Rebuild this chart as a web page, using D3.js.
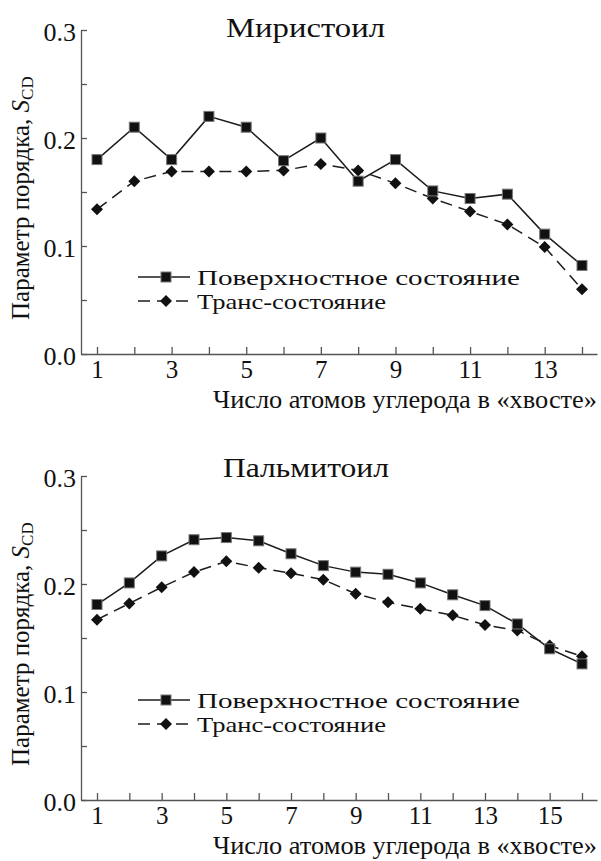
<!DOCTYPE html>
<html>
<head>
<meta charset="utf-8">
<script src="https://cdn.jsdelivr.net/npm/d3@7"></script>
<style>
  body { margin: 0; background: #fff; }
</style>
</head>
<body>
<div id="chart"></div>
<script>
// Миристоил
var myrAtoms = [1, 2, 3, 4, 5, 6, 7, 8, 9, 10, 11, 12, 13, 14];
var myrSurface = [0.180, 0.210, 0.180, 0.220, 0.210, 0.179, 0.200, 0.160, 0.180, 0.151, 0.144, 0.148, 0.111, 0.082];
var myrTrans = [0.134, 0.160, 0.169, 0.169, 0.169, 0.170, 0.176, 0.170, 0.158, 0.144, 0.132, 0.120, 0.099, 0.060];

// Пальмитоил
var palAtoms = [1, 2, 3, 4, 5, 6, 7, 8, 9, 10, 11, 12, 13, 14, 15, 16];
var palSurface = [0.181, 0.201, 0.226, 0.241, 0.243, 0.240, 0.228, 0.217, 0.211, 0.209, 0.201, 0.190, 0.180, 0.163, 0.140, 0.126];
var palTrans = [0.167, 0.182, 0.197, 0.211, 0.221, 0.215, 0.210, 0.204, 0.191, 0.183, 0.177, 0.171, 0.162, 0.157, 0.143, 0.133];

var yTickLabels = [0, 0.1, 0.2, 0.3];
var yMinorTicks = [0, 0.05, 0.1, 0.15, 0.2, 0.25, 0.3];
var seriesNames = ["Поверхностное состояние", "Транс-состояние"];
var xTitle = "Число атомов углерода в «хвосте»";

var FONT = "'Liberation Serif', 'Times New Roman', serif";
var svg = d3.select("#chart").append("svg").attr("width", 601).attr("height", 861);

var axisColor = "#555";
var lineColor = "#1c1c1c";
var textColor = "#111";

function txt(sel, size) {
    return sel.style("font-family", FONT).attr("font-size", size).attr("fill", textColor);
}

function panel(o) {
    var g = svg.append("g");
    var y = d3.scaleLinear().domain([0, 0.3]).range([o.y0, o.y0 - 324]);
    var x = d3.scaleLinear().domain([1, d3.max(o.atoms)]).range([97, 582]);
    var xAx = x.copy().domain([x.invert(81), x.invert(597)]).range([81, 597]);

    // y axis: ticks point inward
    g.append("g").attr("transform", "translate(81,0)")
        .call(d3.axisLeft(y).tickValues(yMinorTicks).tickSize(-6).tickSizeOuter(0).tickFormat(""));
    var yLab = g.append("g").attr("transform", "translate(81,0)")
        .call(d3.axisLeft(y).tickValues(yTickLabels).tickSize(0).tickPadding(5).tickFormat(d3.format(".1f")))
        .call(a => a.select(".domain").remove());
    txt(yLab.selectAll("text"), 26).attr("dy", "0.42em");

    var xAxis = g.append("g").attr("transform", "translate(0," + o.y0 + ")")
        .call(d3.axisBottom(xAx).tickValues(o.atoms).tickSize(-7).tickSizeOuter(0).tickPadding(6)
            .tickFormat(d => d % 2 ? d : ""));
    txt(xAxis.selectAll("text"), 25);

    g.selectAll(".domain, .tick line").attr("stroke", axisColor).attr("stroke-width", 1.3);

    var line = d3.line().x((d, i) => x(o.atoms[i])).y(d => y(d));

    g.append("path").datum(o.trans).attr("d", line).attr("fill", "none")
        .attr("stroke", lineColor).attr("stroke-width", 1.5).attr("stroke-dasharray", "12,7");
    g.append("path").datum(o.surface).attr("d", line).attr("fill", "none")
        .attr("stroke", lineColor).attr("stroke-width", 1.5);

    var diamond = d3.symbol().type(d3.symbolSquare).size(72);
    g.selectAll(".dia").data(o.trans).enter().append("path")
        .attr("d", diamond)
        .attr("transform", (d, i) => "translate(" + x(o.atoms[i]) + "," + y(d) + ") rotate(45)")
        .attr("fill", "#111");
    g.selectAll(".sq").data(o.surface).enter().append("rect")
        .attr("x", (d, i) => x(o.atoms[i]) - 5).attr("y", d => y(d) - 5)
        .attr("width", 10).attr("height", 10)
        .attr("fill", "#111").attr("stroke", "#777").attr("stroke-width", 1);

    // title
    txt(g.append("text"), 28).attr("x", o.titleX).attr("y", o.titleY)
        .attr("textLength", o.titleW).attr("lengthAdjust", "spacingAndGlyphs").text(o.title);

    // y label
    var yl = txt(g.append("text"), 25).attr("transform", "translate(29," + (o.y0 - 34) + ") rotate(-90)");
    yl.append("tspan").text("Параметр порядка, ");
    yl.append("tspan").attr("font-style", "italic").text("S");
    yl.append("tspan").attr("font-size", 17).attr("dy", 4).text("CD");

    // x title
    txt(g.append("text"), 25).attr("x", 213).attr("y", o.y0 + 54)
        .attr("textLength", 384).attr("lengthAdjust", "spacingAndGlyphs").text(xTitle);

    // legend
    var lg = g.append("g").attr("transform", "translate(0," + o.legY + ")");
    lg.append("line").attr("x1", 138).attr("x2", 190).attr("y1", 0).attr("y2", 0)
        .attr("stroke", lineColor).attr("stroke-width", 1.5);
    lg.append("rect").attr("x", 161).attr("y", -5).attr("width", 10).attr("height", 10)
        .attr("fill", "#111").attr("stroke", "#777");
    txt(lg.append("text"), 22).attr("x", 197).attr("y", 8)
        .attr("textLength", 323).attr("lengthAdjust", "spacingAndGlyphs").text(seriesNames[0]);
    lg.append("line").attr("x1", 138).attr("x2", 190).attr("y1", o.legGap).attr("y2", o.legGap)
        .attr("stroke", lineColor).attr("stroke-width", 1.5).attr("stroke-dasharray", "12,7");
    lg.append("path").attr("d", diamond)
        .attr("transform", "translate(166," + o.legGap + ") rotate(45)").attr("fill", "#111");
    txt(lg.append("text"), 22).attr("x", 197).attr("y", o.legGap + 8)
        .attr("textLength", 189).attr("lengthAdjust", "spacingAndGlyphs").text(seriesNames[1]);
}

panel({ title: "Миристоил", atoms: myrAtoms, surface: myrSurface, trans: myrTrans,
        y0: 354, titleX: 226, titleW: 159, titleY: 37, legY: 277, legGap: 24 });
panel({ title: "Пальмитоил", atoms: palAtoms, surface: palSurface, trans: palTrans,
        y0: 800, titleX: 223, titleW: 166, titleY: 477, legY: 700, legGap: 24 });
</script>
</body>
</html>
